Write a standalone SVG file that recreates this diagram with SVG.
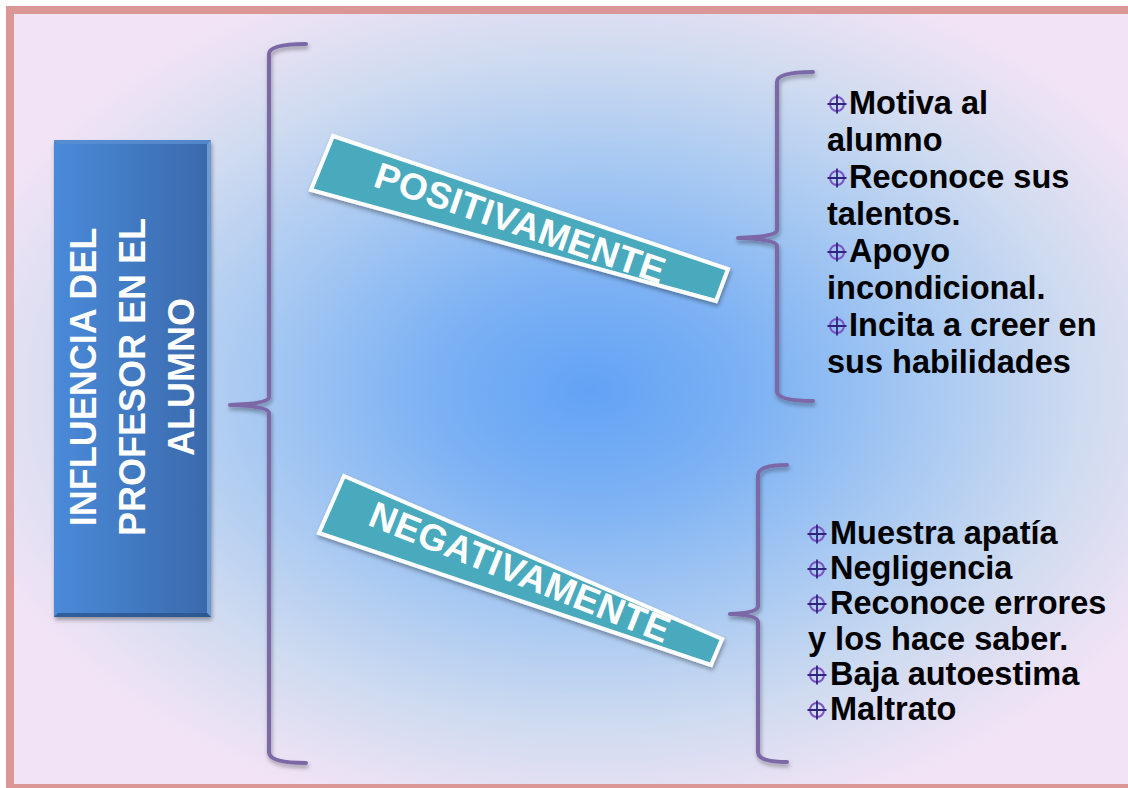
<svg xmlns="http://www.w3.org/2000/svg" width="1128" height="788" viewBox="0 0 1128 788">
<defs>
<radialGradient id="bg" gradientUnits="userSpaceOnUse" cx="590" cy="390" r="660" gradientTransform="translate(590 390) scale(1 0.68) translate(-590 -390)">
<stop offset="0" stop-color="#62a2f5"/>
<stop offset="0.25" stop-color="#7db2f4"/>
<stop offset="0.5" stop-color="#a6c8f2"/>
<stop offset="0.75" stop-color="#cfdbf0"/>
<stop offset="0.92" stop-color="#e9e1f4"/>
<stop offset="1" stop-color="#f2e4f6"/>
</radialGradient>
<linearGradient id="boxg" x1="0" y1="0" x2="1" y2="0">
<stop offset="0" stop-color="#4a8ad9"/>
<stop offset="1" stop-color="#3a69ab"/>
</linearGradient>
<filter id="sh" x="-10%" y="-10%" width="130%" height="130%">
<feGaussianBlur in="SourceAlpha" stdDeviation="2"/>
<feOffset dx="1" dy="3" result="b"/>
<feComponentTransfer><feFuncA type="linear" slope="0.35"/></feComponentTransfer>
<feMerge><feMergeNode/><feMergeNode in="SourceGraphic"/></feMerge>
</filter>
<g id="bul">
<circle cx="0" cy="0" r="7" fill="none" stroke="#7a52c4" stroke-width="2"/>
<path d="M-9.5 0H9.5M0 -9.5V9.5" stroke="#2e2480" stroke-width="1.8"/>
</g>
<style>
.br{fill:none;stroke:#7b68a6;stroke-width:4;stroke-linecap:round;stroke-linejoin:round}
.tag{fill:#48aabe;stroke:#ffffff;stroke-width:4;stroke-linejoin:miter}
.tagt{font-family:"Liberation Sans",Arial,sans-serif;font-weight:bold;font-size:37px;fill:#ffffff}
.mt{font-family:"Liberation Sans",Arial,sans-serif;font-weight:bold;font-size:36px;fill:#ffffff}
.li{font-family:"Liberation Sans",Arial,sans-serif;font-weight:bold;font-size:32.5px;fill:#000000}
</style>
</defs>
<rect x="0" y="0" width="1128" height="788" fill="#ffffff"/>
<rect x="6" y="6" width="1122" height="782" fill="#db9795"/>
<rect x="14" y="14" width="1114" height="770" fill="url(#bg)"/>

<g id="connectors" filter="url(#sh)">
<path class="br" d="M306,44 Q269,44 269,54 L269,397 Q269,404 230,405 Q269,406 269,413 L269,752 Q269,763 306,763"/>
<path class="br" d="M813,72 Q777,72 777,82 L777,230 Q777,237 738,238 Q777,239 777,246 L777,391 Q777,401 813,401"/>
<path class="br" d="M787,465 Q758,465 758,475 L758,606 Q758,613 730,614 Q758,615 758,622 L758,752 Q758,762 787,762"/>
</g>

<g id="main">
<rect x="54" y="140" width="157" height="477" fill="url(#boxg)" filter="url(#sh)"/>
<path d="M54,140 H211 L207,144 H58 Z" fill="#5a8fd0" opacity="0.8"/>
<path d="M211,140 V617 L207,613 V144 Z" fill="#7aa6e0" opacity="0.8"/>
<path d="M54,617 H211 L207,613 H58 Z" fill="#2b548c" opacity="0.8"/>
<g transform="translate(0 377) rotate(-90)">
<text class="mt" x="0" y="96" text-anchor="middle">INFLUENCIA DEL</text>
<text class="mt" x="0" y="145" text-anchor="middle">PROFESOR EN EL</text>
<text class="mt" x="0" y="194" text-anchor="middle">ALUMNO</text>
</g>
</g>

<g id="positivamente">
<polygon class="tag" points="333,136 728,269 716,301 311,190" filter="url(#sh)"/>
<text class="tagt" transform="translate(516 235) rotate(18.8)" x="0" y="0" text-anchor="middle" textLength="304" lengthAdjust="spacing">POSITIVAMENTE</text>
</g>

<g id="negativamente">
<polygon class="tag" points="344,476 722,639 711,665 319,533" filter="url(#sh)"/>
<text class="tagt" transform="translate(515 584) rotate(21.8)" x="0" y="0" text-anchor="middle" textLength="320" lengthAdjust="spacing">NEGATIVAMENTE</text>
</g>

<g id="positive-list">
<use href="#bul" x="837" y="104"/>
<text class="li" x="849" y="114">Motiva al</text>
<text class="li" x="827" y="151">alumno</text>
<use href="#bul" x="837" y="178"/>
<text class="li" x="849" y="188">Reconoce sus</text>
<text class="li" x="827" y="225">talentos.</text>
<use href="#bul" x="837" y="252"/>
<text class="li" x="849" y="262">Apoyo</text>
<text class="li" x="827" y="299">incondicional.</text>
<use href="#bul" x="837" y="326"/>
<text class="li" x="849" y="336">Incita a creer en</text>
<text class="li" x="827" y="373">sus habilidades</text>
</g>

<g id="negative-list">
<use href="#bul" x="817" y="534"/>
<text class="li" x="830" y="544">Muestra apatía</text>
<use href="#bul" x="817" y="569"/>
<text class="li" x="830" y="579">Negligencia</text>
<use href="#bul" x="817" y="604"/>
<text class="li" x="830" y="614">Reconoce errores</text>
<text class="li" x="808" y="650">y los hace saber.</text>
<use href="#bul" x="817" y="675"/>
<text class="li" x="830" y="685">Baja autoestima</text>
<use href="#bul" x="817" y="710"/>
<text class="li" x="830" y="720">Maltrato</text>
</g>
</svg>
